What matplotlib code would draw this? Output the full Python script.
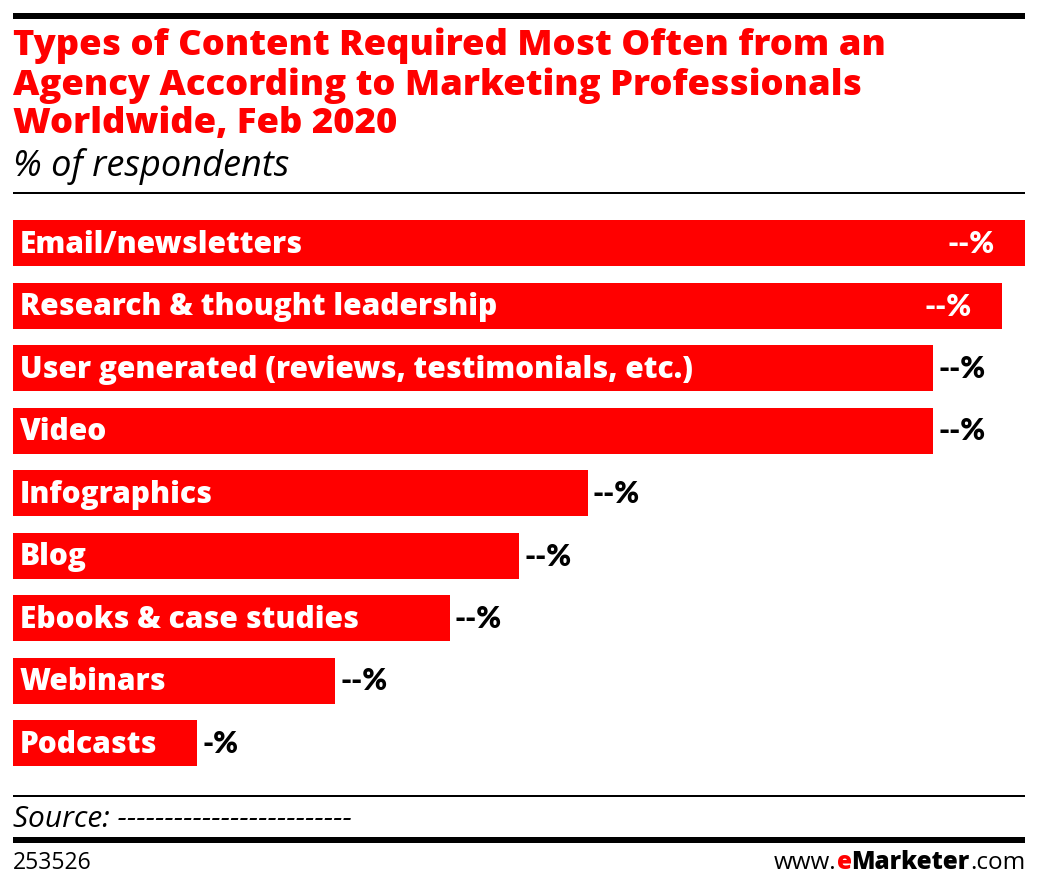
import matplotlib
matplotlib.use("Agg")
import matplotlib.pyplot as plt
from matplotlib.lines import Line2D

categories = ["Email/newsletters", "Research & thought leadership",
              "User generated (reviews, testimonials, etc.)", "Video",
              "Infographics", "Blog", "Ebooks & case studies", "Webinars", "Podcasts"]
values = [44, 43, 40, 40, 25, 22, 19, 14, 8]
value_labels = ["--%", "--%", "--%", "--%", "--%", "--%", "--%", "--%", "-%"]
inside_value = [True, True, False, False, False, False, False, False, False]

RED = "#ff0000"
W, H = 1038, 889
PT = 0.72  # points per pixel at dpi 100
fig = plt.figure(figsize=(W / 100, H / 100), dpi=100)

def fx(px):
    return px / W

def fy(py):
    return 1 - py / H

ax = fig.add_axes([fx(13), fy(776), fx(1012), (776 - 210) / H])
ypos = list(range(len(categories)))
ax.barh(ypos, values, height=0.736, color=RED, edgecolor="none")
ax.set_xlim(0, max(values))
ax.set_ylim(8.528, -0.528)
ax.axis("off")

bold_font = "Open Sans"
val_font = "Lato"
LBL = 21.5
for i, (c, v, lab, ins) in enumerate(zip(categories, values, value_labels, inside_value)):
    ax.annotate(c, (0, i), xytext=(7 * PT, -10 * PT), textcoords="offset points",
                ha="left", va="baseline", color="white", fontsize=LBL,
                fontweight=800, family=bold_font)
    if ins:
        ax.annotate(lab, (v, i), xytext=(-30 * PT, -10 * PT), textcoords="offset points",
                    ha="right", va="baseline", color="white", fontsize=LBL,
                    fontweight="heavy", family=val_font)
    else:
        ax.annotate(lab, (v, i), xytext=(5 * PT, -10 * PT), textcoords="offset points",
                    ha="left", va="baseline", color="black", fontsize=LBL,
                    fontweight="heavy", family=val_font)

title_lines = ["Types of Content Required Most Often from an",
               "Agency According to Marketing Professionals",
               "Worldwide, Feb 2020"]
for k, t in enumerate(title_lines):
    fig.text(fx(13), fy(55.5 + 39 * k), t, ha="left", va="baseline", color=RED,
             fontsize=26.2, fontweight=800, family=bold_font)
fig.text(fx(13), fy(176), "% of respondents", ha="left", va="baseline",
         color="black", fontsize=26, style="italic", family="Open Sans")

def hline(y, lw_px):
    fig.add_artist(Line2D([fx(13), fx(1025)], [fy(y), fy(y)], color="black",
                          lw=lw_px * PT, solid_capstyle="butt"))

hline(16, 6)
hline(193, 2)
hline(796, 2)
hline(840, 6)

fig.text(fx(13), fy(827), "Source: -------------------------", ha="left", va="baseline",
         color="black", fontsize=21.5, style="italic", family="Open Sans")
fig.text(fx(13), fy(869), "253526", ha="left", va="baseline", color="black",
         fontsize=16.5, family="Open Sans")

LOGO = 17.5
t1 = fig.text(fx(1025), fy(869), ".com", ha="right", va="baseline", color="black",
              fontsize=LOGO, family="Open Sans")
fig.canvas.draw()
r = fig.canvas.get_renderer()
bb = t1.get_window_extent(r)
t2 = fig.text(bb.x0 / W, fy(869), "Marketer", ha="right", va="baseline", color="black",
              fontsize=LOGO, fontweight=800, family=bold_font)
bb2 = t2.get_window_extent(r)
t3 = fig.text(bb2.x0 / W, fy(869), "e", ha="right", va="baseline", color=RED,
              fontsize=LOGO, fontweight=800, family=bold_font)
bb3 = t3.get_window_extent(r)
fig.text(bb3.x0 / W, fy(869), "www.", ha="right", va="baseline", color="black",
         fontsize=LOGO, family="Open Sans")

fig.savefig("out.png", dpi=100, facecolor="white")
